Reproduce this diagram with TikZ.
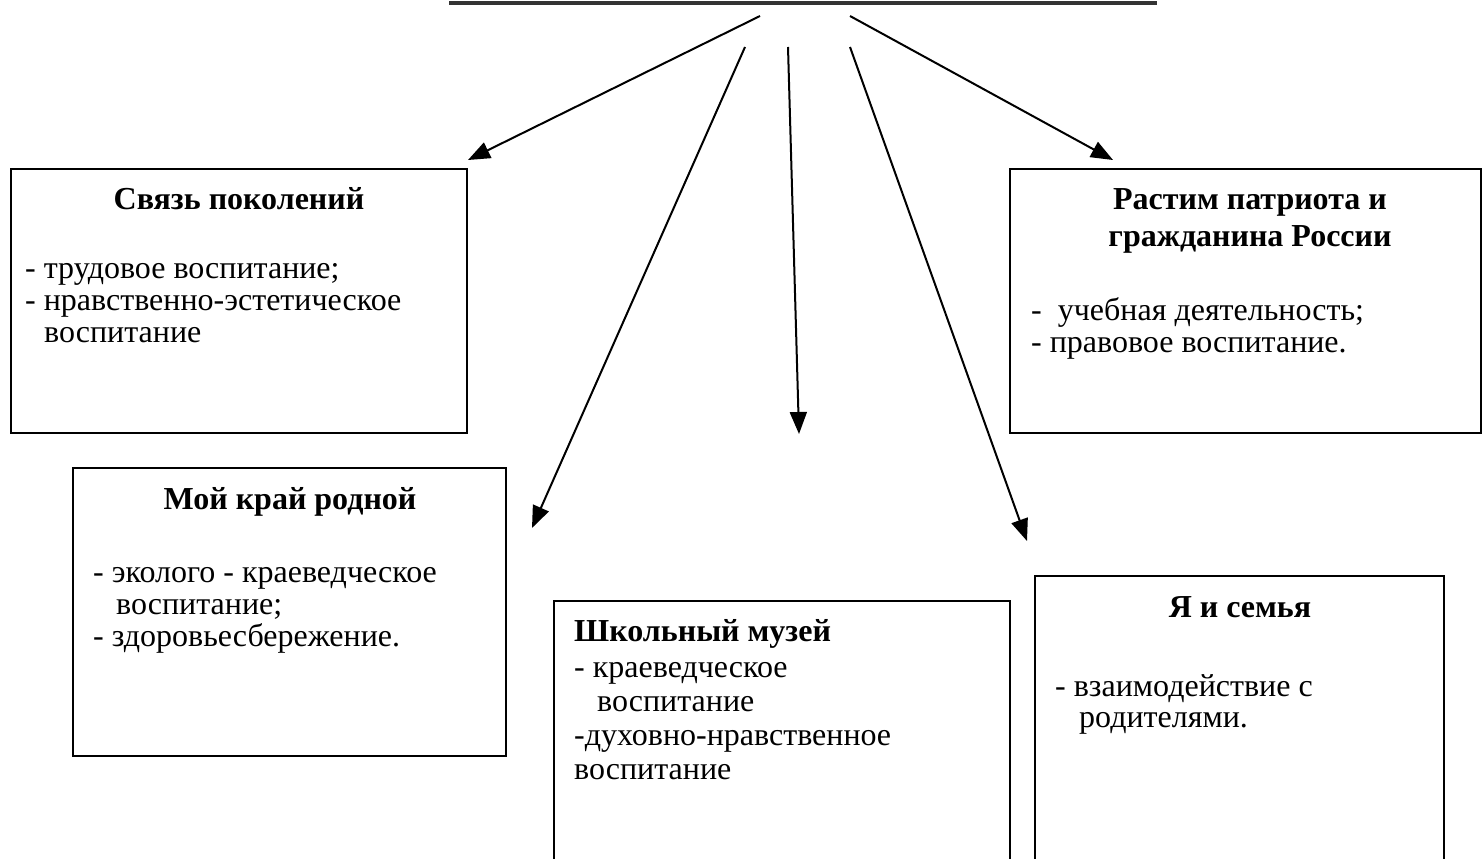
\documentclass[tikz,border=0pt]{standalone}
\usepackage{fontspec}
\setmainfont{Liberation Serif}
\usetikzlibrary{arrows.meta}
\begin{document}
\begin{tikzpicture}[x=1pt,y=-1pt,
  boxnode/.style={draw=black,line width=2pt,rectangle,inner sep=0pt},
  txt/.style={anchor=base west,inner sep=0pt,font=\fontsize{32}{35}\selectfont},
  ttl/.style={anchor=base,inner sep=0pt,font=\fontsize{32}{35}\selectfont\bfseries},
  arr/.style={line width=2pt,-{Triangle[length=22pt,width=17pt]}}]
\useasboundingbox (0,0) rectangle (1483,859);
\fill[white] (0,0) rectangle (1483,859);
% top line (bottom edge of a box cut off above)
\coordinate (tl) at (449,3);
\coordinate (tr) at (1157,3);
\draw[line width=4pt,color={rgb,255:red,51;green,51;blue,51}] (tl) -- (tr);
% boxes
\node[boxnode,minimum width=456pt,minimum height=264pt] (b1) at (239,301) {};
\node[boxnode,minimum width=471pt,minimum height=264pt] (b2) at (1245.5,301) {};
\node[boxnode,minimum width=433pt,minimum height=288pt] (b3) at (289.5,612) {};
\node[boxnode,minimum width=456pt,minimum height=279pt] (b4) at (782,740.5) {};
\node[boxnode,minimum width=409pt,minimum height=304pt] (b5) at (1239.5,728) {};
% box 1
\node[ttl] (t1) at (239,209) {Связь поколений};
\node[txt] (t1a) at (25,278) {- трудовое воспитание;};
\node[txt] (t1b) at (25,310) {- нравственно-эстетическое};
\node[txt] (t1c) at (44,342) {воспитание};
% box 2
\node[ttl] (t2) at (1250,209) {Растим патриота и};
\node[ttl] (t2b) at (1250,246) {гражданина России};
\node[txt] (t2c) at (1031,320) {-\ \ учебная деятельность;};
\node[txt] (t2d) at (1031,352) {- правовое воспитание.};
% box 3
\node[ttl] (t3) at (290,509) {Мой край родной};
\node[txt] (t3a) at (93,582) {- эколого - краеведческое};
\node[txt] (t3b) at (116,614) {воспитание;};
\node[txt] (t3c) at (93,646) {- здоровьесбережение.};
% box 4
\node[ttl,anchor=base west] (t4) at (574,641) {Школьный музей};
\node[txt] (t4a) at (574,677) {- краеведческое};
\node[txt] (t4b) at (597,711) {воспитание};
\node[txt] (t4c) at (574,745) {-духовно-нравственное};
\node[txt] (t4d) at (574,779) {воспитание};
% box 5
\node[ttl] (t5) at (1240,617) {Я и семья};
\node[txt] (t5a) at (1055,696) {- взаимодействие с};
\node[txt] (t5b) at (1079,727) {родителями.};
% arrows
\coordinate (s1) at (760,16);
\coordinate (e1) at (468,160);
\coordinate (s2) at (745,47);
\coordinate (e2) at (532,528);
\coordinate (s3) at (788,47);
\coordinate (e3) at (799,434);
\coordinate (s4) at (850,47);
\coordinate (e4) at (1027,541);
\coordinate (s5) at (850,16);
\coordinate (e5) at (1113,160);
\draw[arr] (s1) -- (e1);
\draw[arr] (s2) -- (e2);
\draw[arr] (s3) -- (e3);
\draw[arr] (s4) -- (e4);
\draw[arr] (s5) -- (e5);
\end{tikzpicture}
\end{document}
